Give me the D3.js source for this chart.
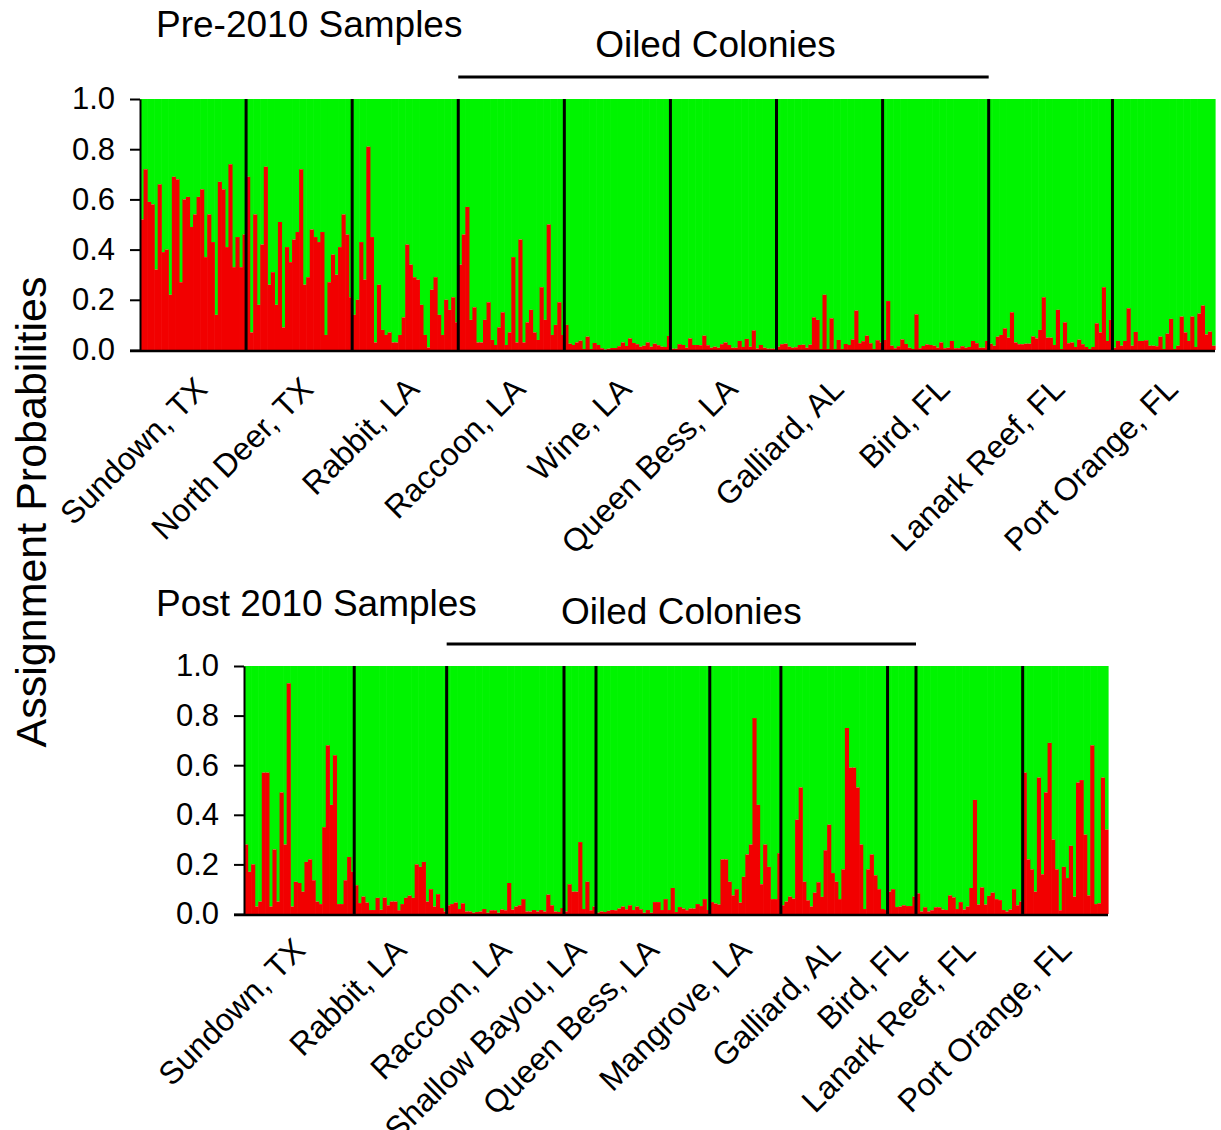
<!DOCTYPE html>
<html>
<head>
<meta charset="utf-8">
<script src="https://cdn.jsdelivr.net/npm/d3@7"></script>
<style>
  body { margin: 0; background: #fff; }
  svg { display: block; font-family: Arial, "Liberation Sans", sans-serif; }
</style>
</head>
<body>
<div id="chart"></div>
<script>
// --- Pre-2010 : probabilite d'assignation (partie rouge) par individu ---
const preSites = ["Sundown, TX", "North Deer, TX", "Rabbit, LA", "Raccoon, LA", "Wine, LA",
  "Queen Bess, LA", "Galliard, AL", "Bird, FL", "Lanark Reef, FL", "Port Orange, FL"];

const sundownPre = [0.52,0.72,0.59,0.58,0.32,0.66,0.39,0.40,0.22,0.69,0.68,0.27,0.60,0.61,0.49,
  0.54,0.61,0.64,0.37,0.54,0.43,0.14,0.67,0.64,0.41,0.74,0.33,0.45,0.33,0.46];
const northDeerPre = [0.69,0.07,0.54,0.18,0.42,0.73,0.26,0.31,0.18,0.51,0.09,0.41,0.35,0.44,0.47,
  0.72,0.26,0.29,0.48,0.45,0.43,0.47,0.06,0.27,0.38,0.30,0.41,0.54,0.46,0.21];
const rabbitPre = [0.14,0.20,0.43,0.28,0.81,0.45,0.03,0.26,0.08,0.06,0.07,0.03,0.03,0.06,0.13,
  0.42,0.34,0.29,0.28,0.18,0.06,0.01,0.24,0.29,0.14,0.06,0.20,0.16,0.21,0.11];
const raccoonPre = [0.34,0.46,0.57,0.12,0.17,0.03,0.03,0.12,0.19,0.04,0.02,0.09,0.15,0.02,0.07,
  0.37,0.03,0.44,0.03,0.11,0.16,0.07,0.04,0.25,0.12,0.50,0.06,0.10,0.19,0.06];
const winePre = [0.10,0.025,0.02,0.03,0.037,0.004,0.053,0.004,0.028,0.02,0.007,0.002,0.005,0.008,0.008,
  0.015,0.03,0.016,0.046,0.028,0.023,0.013,0.017,0.03,0.013,0.025,0.019,0.013,0.012,0.056];
const queenBessPre = [0.005,0.005,0.023,0.02,0.009,0.046,0.02,0.02,0.019,0.057,0.019,0.009,0.013,0.009,0.023,
  0.03,0.02,0.009,0.009,0.036,0.012,0.044,0.013,0.078,0.006,0.02,0.009,0.005,0.005,0.005];
const galliardPre = [0.013,0.023,0.025,0.013,0.009,0.011,0.02,0.021,0.009,0.021,0.13,0.12,0.004,0.22,0.004,
  0.126,0.004,0.04,0.004,0.024,0.02,0.042,0.157,0.027,0.035,0.057,0.027,0.004,0.039,0.03];
const birdPre = [0.04,0.195,0.017,0.007,0.015,0.042,0.024,0.009,0.004,0.142,0.007,0.016,0.022,0.02,0.017,
  0.009,0.03,0.007,0.009,0.036,0.007,0.007,0.015,0.009,0.012,0.036,0.027,0.009,0.009,0.036];
const lanarkPre = [0.025,0.017,0.053,0.06,0.086,0.049,0.15,0.03,0.023,0.023,0.025,0.025,0.054,0.046,0.08,
  0.21,0.049,0.049,0.02,0.16,0.004,0.11,0.027,0.03,0.012,0.041,0.023,0.012,0.004,0.012,
  0.106,0.07,0.25,0.036,0.12];
const portOrangePre = [0.009,0.036,0.017,0.036,0.166,0.017,0.072,0.036,0.036,0.039,0.017,0.017,0.015,0.053,0.004,
  0.065,0.124,0.004,0.017,0.133,0.07,0.036,0.133,0.012,0.145,0.177,0.062,0.073,0.017];

const preValues = [sundownPre, northDeerPre, rabbitPre, raccoonPre, winePre,
  queenBessPre, galliardPre, birdPre, lanarkPre, portOrangePre];

// --- Post 2010 ---
const postSites = ["Sundown, TX", "Rabbit, LA", "Raccoon, LA", "Shallow Bayou, LA", "Queen Bess, LA",
  "Mangrove, LA", "Galliard, AL", "Bird, FL", "Lanark Reef, FL", "Port Orange, FL"];

const sundownPost = [0.28,0.17,0.20,0.03,0.05,0.57,0.57,0.03,0.26,0.05,0.49,0.28,0.93,0.03,0.13,
  0.125,0.09,0.21,0.22,0.136,0.05,0.04,0.35,0.68,0.44,0.64,0.04,0.04,0.136,0.23,0.17];
const rabbitPost = [0.116,0.044,0.07,0.046,0.016,0.016,0.065,0.017,0.066,0.035,0.05,0.05,0.015,
  0.04,0.065,0.074,0.065,0.20,0.19,0.21,0.05,0.10,0.03,0.08,0.024,0.01];
const raccoonPost = [0.035,0.04,0.046,0.02,0.043,0.01,0.01,0.005,0.008,0.01,0.02,0.005,0.015,0.015,0.005,
  0.018,0.015,0.125,0.018,0.03,0.035,0.06,0.01,0.01,0.016,0.01,0.016,0.01,0.078,0.035,0.01,0.008,0.024];
const shallowPost = [0.01,0.12,0.09,0.09,0.29,0.02,0.13,0.015,0.03];
const queenBessPost = [0.005,0.01,0.008,0.013,0.016,0.015,0.022,0.03,0.019,0.035,0.016,0.03,0.019,0.005,0.016,
  0.005,0.048,0.048,0.016,0.06,0.016,0.105,0.008,0.028,0.022,0.015,0.022,0.022,0.04,0.032,0.06,0.016];
const mangrovePost = [0.048,0.042,0.038,0.22,0.22,0.13,0.075,0.10,0.046,0.15,
  0.24,0.28,0.79,0.44,0.12,0.28,0.19,0.06,0.06,0.245];
const galliardPost = [0.035,0.05,0.07,0.062,0.38,0.51,0.13,0.055,0.03,0.086,0.128,0.069,0.257,0.36,0.165,
  0.13,0.06,0.18,0.75,0.59,0.59,0.51,0.28,0.02,0.18,0.24,0.156,0.10,0.02,0.016];
const birdPost = [0.09,0.10,0.028,0.03,0.035,0.032,0.032,0.07];
const lanarkPost = [0.083,0.01,0.027,0.01,0.015,0.027,0.027,0.018,0.016,0.075,0.067,0.02,0.048,0.018,0.03,
  0.105,0.46,0.038,0.107,0.038,0.073,0.086,0.06,0.056,0.016,0.01,0.018,0.10,0.035,0.05];
const portOrangePost = [0.57,0.22,0.18,0.09,0.55,0.16,0.49,0.69,0.30,0.18,0.015,0.19,
  0.145,0.275,0.07,0.53,0.54,0.32,0.075,0.68,0.04,0.043,0.55,0.34];

const postValues = [sundownPost, rabbitPost, raccoonPost, shallowPost, queenBessPost,
  mangrovePost, galliardPost, birdPost, lanarkPost, portOrangePost];

const yTicks = [0, 0.2, 0.4, 0.6, 0.8, 1.0];
const oiledFirst = "Raccoon, LA", oiledLast = "Bird, FL";

const GREEN = "#00f400", RED = "#f20000";

const svg = d3.select("#chart").append("svg")
  .attr("width", 1221)
  .attr("height", 1130);

// un panneau = un graphe en barres empilees (rouge + vert)
const drawPanel = (p) => {
  const rows = [];
  const groups = [];
  p.values.forEach((arr, g) => {
    groups.push({ site: p.sites[g], start: rows.length, n: arr.length });
    arr.forEach(v => rows.push({ g, v }));
  });

  const x = d3.scaleBand()
    .domain(d3.range(rows.length))
    .range([p.left, p.right])
    .padding(0);

  const y = d3.scaleLinear()
    .domain([0, 1])
    .range([p.bottom, p.top]);

  const bw = x.bandwidth();
  const g = svg.append("g");

  // partie verte (1 - v)
  g.selectAll(".green")
    .data(rows)
    .enter()
    .append("rect")
    .attr("x", (d, i) => x(i))
    .attr("y", y(1))
    .attr("width", bw + 0.6)
    .attr("height", d => y(d.v) - y(1))
    .attr("fill", GREEN);

  // partie rouge (v)
  g.selectAll(".red")
    .data(rows)
    .enter()
    .append("rect")
    .attr("x", (d, i) => x(i))
    .attr("y", d => y(d.v))
    .attr("width", bw + 0.6)
    .attr("height", d => y(0) - y(d.v))
    .attr("fill", RED);

  // separateurs entre colonies
  g.selectAll(".sep")
    .data(groups.slice(1))
    .enter()
    .append("line")
    .attr("x1", d => x(d.start))
    .attr("x2", d => x(d.start))
    .attr("y1", y(1))
    .attr("y2", y(0))
    .attr("stroke", "#000")
    .attr("stroke-width", 3);

  // axe Y
  const yAxis = g.append("g")
    .attr("transform", `translate(${p.left},0)`)
    .call(d3.axisLeft(y).tickValues(yTicks).tickFormat(d3.format(".1f"))
      .tickSize(10).tickSizeOuter(0).tickPadding(15));
  yAxis.select(".domain").attr("stroke", "#000").attr("stroke-width", 2);
  yAxis.selectAll(".tick line").attr("stroke", "#000").attr("stroke-width", 2);
  yAxis.selectAll(".tick text")
    .attr("font-size", 31)
    .attr("font-family", "Arial, 'Liberation Sans', sans-serif")
    .attr("fill", "#000");

  // ligne du bas
  g.append("line")
    .attr("x1", p.left - 10)
    .attr("x2", p.right)
    .attr("y1", y(0) + 1)
    .attr("y2", y(0) + 1)
    .attr("stroke", "#000")
    .attr("stroke-width", 2.5);

  // noms des colonies (inclines)
  g.selectAll(".site")
    .data(groups)
    .enter()
    .append("text")
    .attr("transform", d => {
      const cx = x(d.start) + d.n * bw / 2 + p.labelDx;
      return `translate(${cx},${p.labelY}) rotate(-45)`;
    })
    .attr("text-anchor", "end")
    .attr("font-size", 32)
    .attr("fill", "#000")
    .text(d => d.site);

  // titre du panneau
  svg.append("text")
    .attr("x", 156)
    .attr("y", p.titleY)
    .attr("font-size", 37)
    .text(p.title);

  // "Oiled Colonies" + trait
  const gA = groups.find(d => d.site === oiledFirst);
  const gB = groups.find(d => d.site === oiledLast);
  const x0 = x(gA.start), x1 = x(gB.start + gB.n - 1) + bw;
  const ly = p.top - 22;
  svg.append("line")
    .attr("x1", x0).attr("x2", x1)
    .attr("y1", ly).attr("y2", ly)
    .attr("stroke", "#000").attr("stroke-width", 3);
  svg.append("text")
    .attr("x", (x0 + x1) / 2 + p.oiledDx)
    .attr("y", ly - 20)
    .attr("text-anchor", "middle")
    .attr("font-size", 37)
    .text("Oiled Colonies");
};

drawPanel({
  sites: preSites, values: preValues, title: "Pre-2010 Samples",
  left: 140, right: 1215, top: 99, bottom: 350,
  titleY: 37, labelDx: 16, labelY: 391, oiledDx: -8
});

drawPanel({
  sites: postSites, values: postValues, title: "Post 2010 Samples",
  left: 244, right: 1108, top: 666, bottom: 914,
  titleY: 616, labelDx: 8, labelY: 952, oiledDx: 0
});

// titre axe Y
svg.append("text")
  .attr("transform", "translate(46,512) rotate(-90)")
  .attr("text-anchor", "middle")
  .attr("font-size", 43)
  .text("Assignment Probabilities");
</script>
</body>
</html>
